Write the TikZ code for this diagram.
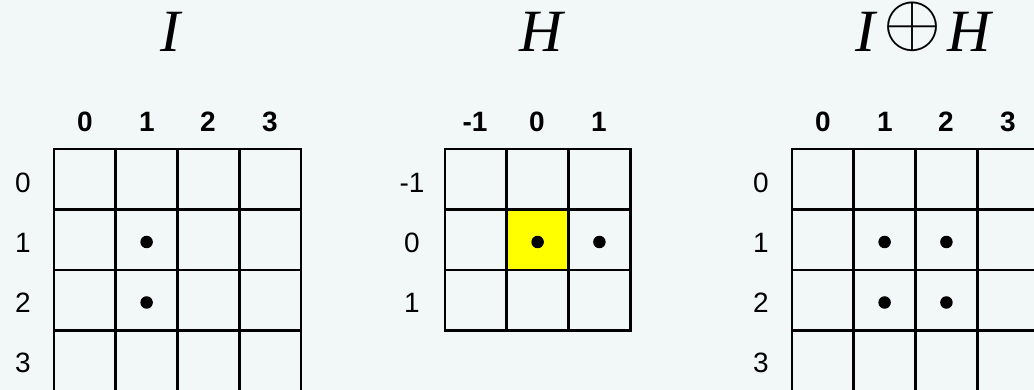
\documentclass[tikz,border=0pt]{standalone}
\usepackage{graphicx}
\usepackage{fontspec}
\setmainfont{Liberation Serif}
\setsansfont{Liberation Sans}
\definecolor{bg}{RGB}{242,247,247}
\definecolor{hl}{RGB}{255,255,0}
\tikzset{
  gridline/.style={line width=2.7pt, line cap=rect},
  collab/.style={font=\sffamily\bfseries\fontsize{28}{28}\selectfont, inner sep=0pt},
  rowlab/.style={font=\sffamily\fontsize{28}{28}\selectfont, inner sep=0pt},
  title/.style={font=\fontsize{60}{60}\selectfont\itshape, inner sep=0pt, anchor=base},
  pixdot/.style={circle, fill=black, minimum size=12.5pt, inner sep=0pt}
}
\begin{document}
\begin{tikzpicture}[x=1pt,y=-1pt]
\fill[bg] (0,0) rectangle (1034,390);
\useasboundingbox (0,0) rectangle (1034,390);
\clip (0,0) rectangle (1034,390);
% titles
\node[title] (tI) at (170,52) {I};
\node[title] (tH) at (541,52) {H};
\node[title] (tIH) at (923,52) {I\kern8pt\raisebox{6pt}{\scalebox{3.0}{$\oplus$}}\kern6pt H};
% ---- grid I ----
\foreach \c/\x in {0/85,1/147,2/208,3/270} \node[collab] (Ic\c) at (\x,122) {\c};
\foreach \r/\y in {0/183,1/243,2/303,3/363} \node[rowlab] (Ir\r) at (23,\y) {\r};
\foreach \x in {54,115.75,177.5,239.25,301} \draw[gridline] (\x,149) -- (\x,391);
\foreach \y in {149,209.5,270,330.5,391} \draw[gridline] (54,\y) -- (301,\y);
\node[pixdot] (Id1) at (146.6,242) {};
\node[pixdot] (Id2) at (146.6,302.5) {};
% ---- grid H ----
\fill[hl] (506.75,209.5) rectangle (568.5,270);
\foreach \c/\x in {-1/475,0/537,1/599} \node[collab] (Hc\c) at (\x,122) {\c};
\foreach \r/\y in {-1/183,0/243,1/303} \node[rowlab] (Hr\r) at (412,\y) {\r};
\foreach \x in {445,506.75,568.5,630.25} \draw[gridline] (\x,149) -- (\x,330.5);
\foreach \y in {149,209.5,270,330.5} \draw[gridline] (445,\y) -- (630.25,\y);
\node[pixdot] (Hd1) at (537.6,242) {};
\node[pixdot] (Hd2) at (599.4,242) {};
% ---- grid I+H ----
\foreach \c/\x in {0/823,1/885,2/946,3/1008} \node[collab] (Rc\c) at (\x,122) {\c};
\foreach \r/\y in {0/183,1/243,2/303,3/363} \node[rowlab] (Rr\r) at (761,\y) {\r};
\foreach \x in {792,853.75,915.5,977.25,1039} \draw[gridline] (\x,149) -- (\x,391);
\foreach \y in {149,209.5,270,330.5,391} \draw[gridline] (792,\y) -- (1039,\y);
\node[pixdot] (Rd1) at (884.6,242) {};
\node[pixdot] (Rd2) at (946.4,242) {};
\node[pixdot] (Rd3) at (884.6,302.5) {};
\node[pixdot] (Rd4) at (946.4,302.5) {};
\end{tikzpicture}
\end{document}
